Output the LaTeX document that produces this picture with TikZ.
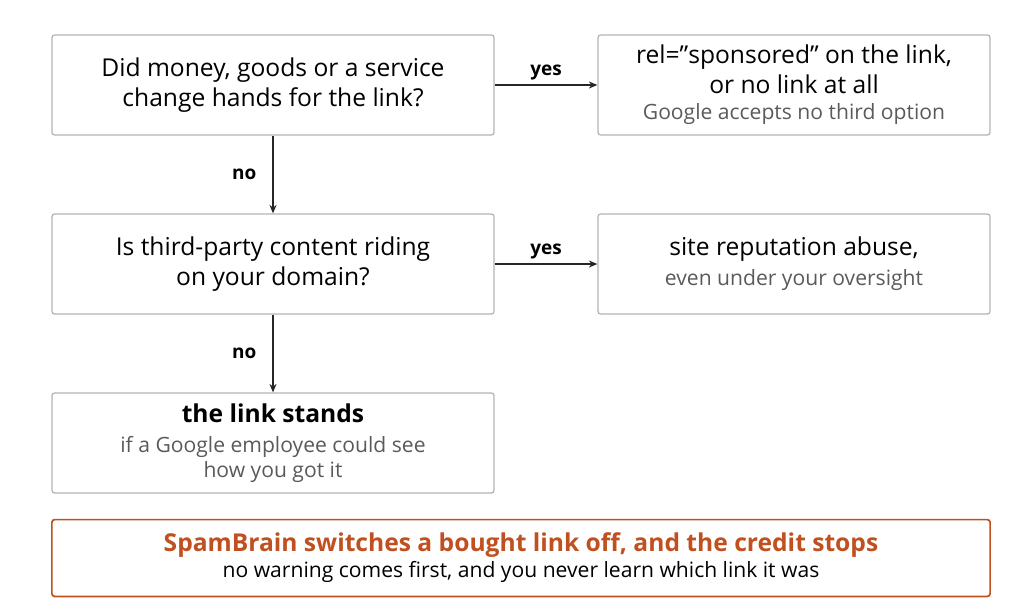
\documentclass[tikz,border=0pt]{standalone}
\usepackage{fontspec}
\setmainfont{Open Sans}
\usetikzlibrary{positioning,arrows.meta}
\definecolor{boxgray}{HTML}{B4B4B4}
\definecolor{txtgray}{HTML}{5A5A5A}
\definecolor{rust}{HTML}{C0501F}
\newcommand{\subnote}{\color{txtgray}\fontsize{15}{19}\selectfont}
\begin{document}
\begin{tikzpicture}[x=0.025cm,y=-0.025cm,
  box/.style={draw=boxgray,line width=0.9pt,rounded corners=2pt,minimum width=11.05cm,minimum height=2.5cm,align=center,font=\fontsize{17.5}{21.5}\selectfont},
  sbox/.style={box,minimum width=9.8cm},
  lbl/.style={font=\bfseries\fontsize{13.5}{15}\selectfont},
  arr/.style={-{Stealth[length=6pt,width=5pt]},line width=1pt,draw=black!85}]
\useasboundingbox (0,0) rectangle (1024,614);
\node[box] (q1) at (273,85) {Did money, goods or a service\\change hands for the link?};
\node[sbox] (a1) at (794,85) {rel=\symbol{34}sponsored\symbol{34} on the link,\\or no link at all\\[-3pt]{\subnote Google accepts no third option}};
\node[box] (q2) at (273,264) {Is third-party content riding\\on your domain?};
\node[sbox] (a2) at (794,264) {site reputation abuse,\\{\subnote even under your oversight}};
\node[box] (a3) at (273,443) {\textbf{the link stands}\\{\subnote if a Google employee could see}\\[-4pt]{\subnote how you got it}};
\node[box,draw=rust,line width=1.2pt,minimum width=23.45cm,minimum height=1.92cm] (warn) at (521,558)
  {{\color{rust}\bfseries SpamBrain switches a bought link off, and the credit stops}\\[-3pt]{\fontsize{15}{18}\selectfont no warning comes first, and you never learn which link it was}};
\draw[arr] (q1) -- node[lbl,above] {yes} (a1);
\draw[arr] (q2) -- node[lbl,above] {yes} (a2);
\draw[arr] (q1) -- node[lbl,left=8pt] {no} (q2);
\draw[arr] (q2) -- node[lbl,left=8pt] {no} (a3);
\end{tikzpicture}
\end{document}
